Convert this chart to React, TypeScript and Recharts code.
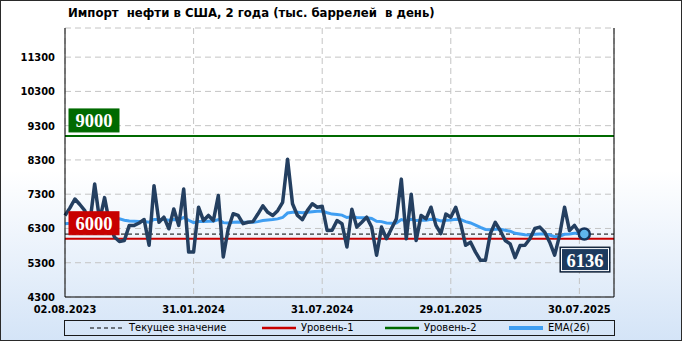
import React from 'react';
import {
  CartesianGrid,
  Line,
  LineChart,
  ReferenceLine,
  XAxis,
  YAxis,
} from 'recharts';

// weekly crude imports, thousand barrels per day (02.08.2023 … 06.08.2025)
const imports = [
  6680, 6900, 7160, 7000, 6820, 6430, 7600, 6530, 7200, 6450,
  6050, 5920, 5950, 6390, 6390, 6460, 6560, 5810, 7550, 6480,
  6630, 6290, 6870, 6390, 7450, 5610, 5610, 6920, 6530, 6680,
  6530, 7260, 5470, 6290, 6730, 6680, 6440, 6480, 6500, 6720,
  6960, 6770, 6680, 6820, 7060, 8320, 7020, 6680, 6560, 6820,
  7020, 6920, 6950, 6240, 6250, 6530, 6440, 5760, 6860, 6340,
  6480, 6630, 6340, 5520, 6340, 6000, 6290, 6580, 7740, 6000,
  7300, 5950, 6680, 6580, 6920, 6390, 6150, 6720, 6630, 6920,
  6440, 5810, 5900, 5610, 5370, 5370, 6150, 6480, 6240, 5950,
  5850, 5450, 5800, 5810, 6000, 6300, 6340, 6190, 5900, 5520,
  6100, 6920, 6240, 6390, 6170, 6136,
];

const ema26 = [
  6440, 6450, 6470, 6480, 6490, 6490, 6530, 6530, 6550, 6550,
  6560, 6580, 6540, 6520, 6510, 6500, 6500, 6480, 6560, 6560,
  6560, 6540, 6560, 6550, 6620, 6540, 6470, 6500, 6500, 6510,
  6510, 6560, 6470, 6460, 6480, 6490, 6480, 6480, 6480, 6500,
  6530, 6550, 6560, 6580, 6620, 6750, 6770, 6770, 6760, 6770,
  6790, 6800, 6810, 6760, 6720, 6710, 6690, 6620, 6640, 6620,
  6610, 6610, 6590, 6510, 6500, 6460, 6450, 6460, 6560, 6520,
  6570, 6530, 6540, 6540, 6570, 6560, 6520, 6540, 6550, 6570,
  6560, 6500, 6460, 6400, 6330, 6270, 6260, 6280, 6280, 6250,
  6220, 6160, 6140, 6120, 6110, 6130, 6140, 6140, 6110, 6060,
  6070, 6130, 6140, 6160, 6160, 6160,
];

const tickWeeks = [0, 26, 52, 78, 104];
const tickLabels = ['02.08.2023', '31.01.2024', '31.07.2024', '29.01.2025', '30.07.2025'];
const yTicks = [4300, 5300, 6300, 7300, 8300, 9300, 10300, 11300];

const level1 = 6000;
const level2 = 9000;
const current = imports[imports.length - 1];

const data = imports.map((v, i) => ({ week: i, value: v, ema: ema26[i] }));

const FONT = "'DejaVu Sans Condensed', 'DejaVu Sans', sans-serif";
const NAVY = '#243f60';
const EMA_BLUE = '#3f9ef2';
const RED = '#c80000';
const GREEN = '#006a00';

const tickStyle = { fill: '#000', fontSize: 11, fontWeight: 'bold', fontFamily: FONT };

const LevelTag = (props: any) => {
  const { viewBox, text, fill, side } = props;
  if (!viewBox) return null;
  const w = 50;
  const h = side === 'left' ? 23 : 25;
  const bx = side === 'left' ? viewBox.x + 4 : viewBox.x + viewBox.width - 4 - w;
  const by = side === 'left' ? viewBox.y - 4 - h : viewBox.y + 13;
  return (
    <g>
      <rect x={bx} y={by} width={w} height={h} fill={fill} stroke={side === 'left' ? fill : '#0a1626'} />
      {side !== 'left' && (
        <rect x={bx + 1.5} y={by + 1.5} width={w - 3} height={h - 3} fill="none" stroke="#fff" strokeWidth={1} />
      )}
      <text
        x={bx + w / 2}
        y={by + h / 2 + 1}
        textAnchor="middle"
        dominantBaseline="central"
        fill="#fff"
        fontFamily="'Liberation Serif', serif"
        fontWeight="bold"
        fontSize={18.5}
      >
        {text}
      </text>
    </g>
  );
};

const LastDot = (props: any) => {
  const { cx, cy, index } = props;
  if (index !== imports.length - 1) return <g key={`d${index}`} />;
  return <circle key="last" cx={cx} cy={cy} r={5.5} fill="#5fb6ee" stroke="#16335a" strokeWidth={2.5} />;
};

const legendItems = [
  { left: 25, label: 'Текущее значение', color: '#000', width: 1, dash: '4 3' },
  { left: 197, label: 'Уровень-1', color: RED, width: 2.5, dash: undefined },
  { left: 320, label: 'Уровень-2', color: GREEN, width: 2.5, dash: undefined },
  { left: 444, label: 'EMA(26)', color: EMA_BLUE, width: 4, dash: undefined },
];

export default function App() {
  return (
    <div
      style={{
        position: 'absolute',
        left: 0,
        top: 0,
        width: 682,
        height: 341,
        background: 'linear-gradient(to bottom, #ffffff 0%, #ffffff 50%, #d4e4f7 100%)',
        outline: '1px solid #2a2a2a',
        outlineOffset: -1,
        fontFamily: FONT,
      }}
    >
      <div
        style={{
          position: 'absolute',
          left: 68,
          top: 5,
          fontSize: 13,
          lineHeight: '16px',
          fontWeight: 'bold',
          whiteSpace: 'pre',
          color: '#000',
        }}
      >
        Импорт  нефти в США, 2 года (тыс. баррелей  в день)
      </div>

      <div style={{ position: 'absolute', left: 0, top: 0 }}>
        <LineChart width={682} height={341} data={data} margin={{ top: 28, right: 0, bottom: 24, left: 0 }}>
          <CartesianGrid stroke="#c4c4c4" strokeDasharray="6 4" ticks={yTicks} />
          <XAxis
            dataKey="week"
            type="number"
            domain={[0, 111]}
            ticks={tickWeeks}
            tickFormatter={(w: number) => tickLabels[tickWeeks.indexOf(w)] ?? ''}
            tick={tickStyle}
            tickLine={false}
            tickSize={6}
            tickMargin={2}
            height={20}
            axisLine={{ stroke: '#000', strokeWidth: 1 }}
            interval={0}
          />
          <XAxis xAxisId="top" orientation="top" type="number" domain={[0, 111]} height={0} tick={false} tickLine={false} axisLine={{ stroke: '#000' }} />
          <YAxis
            domain={[4300, 12150]}
            ticks={yTicks}
            width={65}
            tick={tickStyle}
            tickLine={false}
            tickSize={10}
            tickMargin={0}
            axisLine={{ stroke: '#000' }}
            interval={0}
          />
          <YAxis
            yAxisId="r"
            orientation="right"
            domain={[4300, 12150]}
            ticks={yTicks}
            width={68}
            tick={{ ...tickStyle, textAnchor: 'start' }}
            tickLine={false}
            tickSize={14}
            tickMargin={0}
            axisLine={{ stroke: '#000' }}
            interval={0}
          />
          <ReferenceLine y={level2} stroke={GREEN} strokeWidth={2} />
          <ReferenceLine y={level1} stroke={RED} strokeWidth={2} />
          <ReferenceLine y={current} stroke="#000" strokeWidth={1} strokeDasharray="4 3" />
          <Line
            dataKey="ema"
            stroke={EMA_BLUE}
            strokeWidth={3}
            dot={false}
            activeDot={false}
            isAnimationActive={false}
            type="linear"
          />
          <Line
            dataKey="value"
            stroke={NAVY}
            strokeWidth={3.5}
            strokeLinejoin="round"
            dot={LastDot}
            activeDot={false}
            isAnimationActive={false}
            type="linear"
          />
          <ReferenceLine
            y={level2}
            stroke="none"
            zIndex={1000}
            label={<LevelTag text={String(level2)} fill={GREEN} side="left" />}
          />
          <ReferenceLine
            y={level1}
            stroke="none"
            zIndex={1000}
            label={<LevelTag text={String(level1)} fill={RED} side="left" />}
          />
          <ReferenceLine
            y={current}
            stroke="none"
            zIndex={1000}
            label={<LevelTag text={String(current)} fill="#1c3a5e" side="right" />}
          />
        </LineChart>
      </div>

      <div
        style={{
          position: 'absolute',
          left: 64,
          top: 320,
          width: 551,
          height: 16,
          border: '1px solid #1a1a1a',
          boxSizing: 'border-box',
          fontSize: 11,
          lineHeight: '14px',
          color: '#000',
        }}
      >
        {legendItems.map((it) => (
          <div key={it.label} style={{ position: 'absolute', left: it.left, top: 0, display: 'flex', alignItems: 'center', height: 14 }}>
            <svg width={36} height={8} style={{ marginRight: 3 }}>
              <line x1={0} y1={4} x2={34} y2={4} stroke={it.color} strokeWidth={it.width} strokeDasharray={it.dash} />
            </svg>
            <span style={{ whiteSpace: 'pre' }}>{it.label}</span>
          </div>
        ))}
      </div>
    </div>
  );
}
